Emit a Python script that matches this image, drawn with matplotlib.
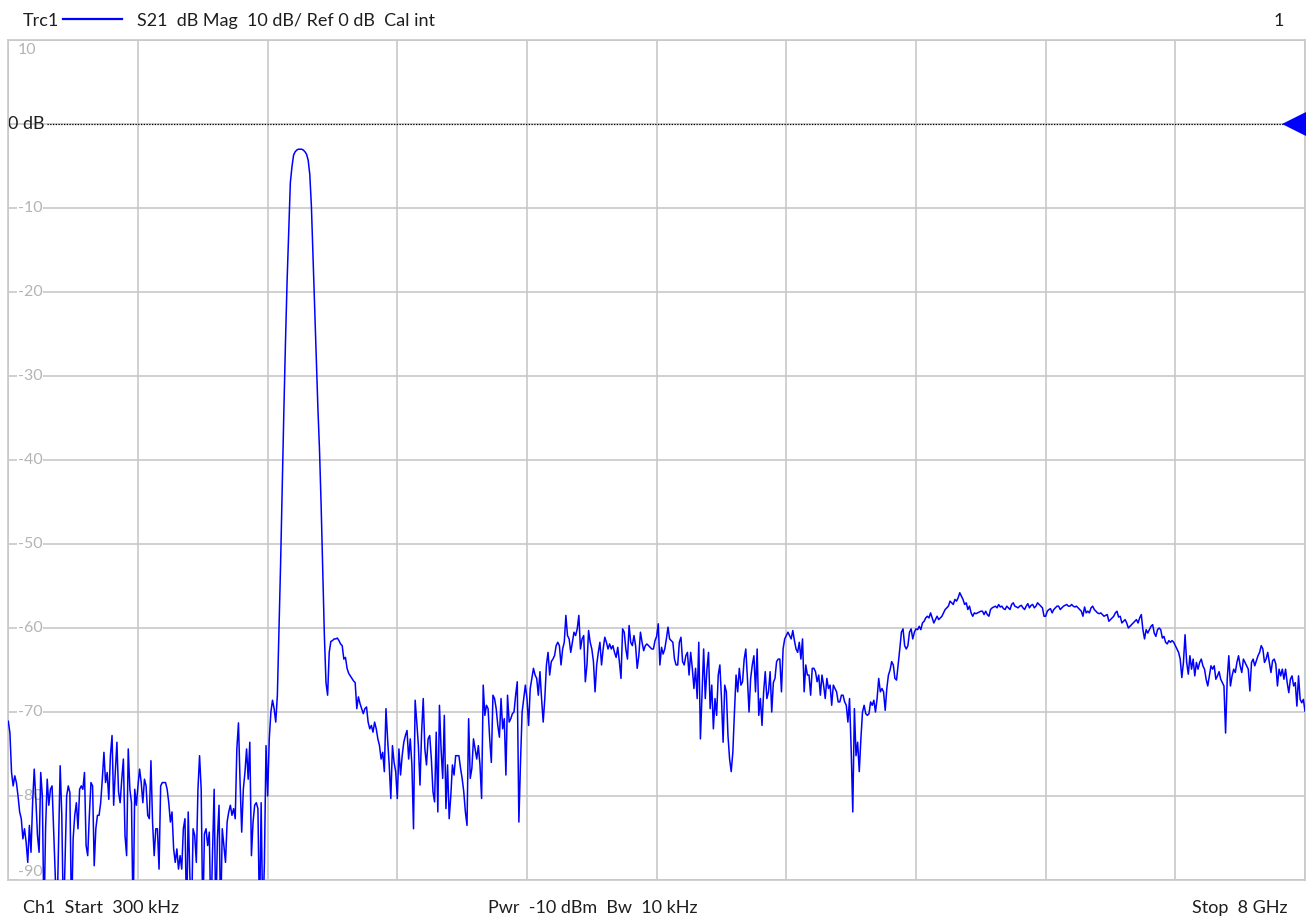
import matplotlib
matplotlib.use("Agg")
import matplotlib.pyplot as plt
import matplotlib.transforms as mtransforms
from matplotlib.lines import Line2D
import numpy as np

# sweep / display settings of the analyzer
start_hz = 300e3
stop_hz = 8e9
ref_level = 0
scale_div = 10
y_top = 10
y_bottom = -90

header_trace = "Trc1"
header_meas = "S21  dB Mag  10 dB/ Ref 0 dB  Cal int"
header_ch = "1"
footer_start = "Ch1  Start  300 kHz"
footer_mid = "Pwr  -10 dBm  Bw  10 kHz"
footer_stop = "Stop  8 GHz"

# S21 magnitude (dB), 801 evenly spaced sweep points,
# split into pieces of the sweep. values below -90 run off the screen.
low_db = [  # 300 kHz .. ~1.6 GHz, noise floor
    -71.1, -72.5, -77.2, -78.8, -77.6, -78.4, -80.0, -81.9, -82.7, -85.1,
    -83.9, -85.5, -87.9, -83.5, -86.7, -80.8, -76.8, -80.4, -84.7, -86.7,
    -77.2, -80.0, -95, -83.9, -78.0, -81.1, -79.2, -78.8, -84.3, -89.8,
    -95, -85.5, -76.4, -82.3, -95, -87.9, -80.0, -78.8, -79.6, -95,
    -85.1, -82.3, -80.8, -83.9, -79.2, -78.8, -79.2, -77.2, -85.9, -87.1,
    -82.3, -78.4, -78.8, -88.3, -83.9, -82.3, -82.3, -80.8, -78.0, -74.8,
    -78.4, -77.2, -80.4, -75.2, -72.8, -81.1, -77.2, -73.6, -79.5, -80.8,
    -78.0, -75.6, -84.7, -87.1, -74.4, -79.2, -80.8, -95, -79.2, -81.1,
    -78.8, -76.8, -78.4, -80.8, -78.0, -78.8, -82.3, -82.7, -75.8, -83.1,
    -87.1, -83.9, -83.9, -88.7, -78.8, -78.4, -78.4, -78.4, -79.2, -80.8,
    -83.1, -81.9, -86.3, -87.9, -86.3, -88.7, -87.1, -88.7, -83.9, -82.7,
    -95, -81.9, -89.4, -95, -83.9, -84.7, -87.9, -79.2, -75.2, -79.2,
    -95, -84.5, -83.9, -85.9, -84.3, -95, -86.7, -79.2, -95, -85.1,
    -81.1, -95, -83.9, -85.9, -87.9, -83.1, -81.9, -81.1, -82.3, -81.5,
    -82.7, -74.4, -71.3, -78.4, -84.3, -79.2, -77.2, -74.4, -78.0, -73.6,
    -87.1, -83.1, -81.1, -80.8, -81.5, -95, -80.8, -95, -88.0, -74.0,
    -80.0,
]
peak_db = [  # filter passband and its skirt
    -73.2, -70.0, -68.6, -69.6, -71.2, -68.0, -60.0, -52.3, -43.0, -34.2,
    -26.0, -18.7, -12.9, -7.0, -5.1, -3.7, -3.3, -3.1, -3.0, -3.0,
    -3.0, -3.1, -3.3, -3.6, -4.3, -6.0, -9.8, -15.8, -21.9, -27.8,
    -33.8, -38.8, -45.4, -53.2, -60.9, -66.5, -68.0, -62.9, -61.6, -61.5,
    -61.3, -61.3, -61.2, -61.5, -61.9, -62.1, -63.7, -63.5, -64.8, -65.4,
    -65.7, -66.0, -66.3, -66.5, -69.6, -68.2, -69.0, -69.6, -70.2, -69.6,
    -69.4, -71.2, -72.0, -71.6, -72.4, -71.2, -72.0, -73.2, -74.0, -75.6,
    -74.8, -77.1, -69.6, -73.2, -76.3, -80.3, -74.0, -76.0, -77.1, -80.3,
    -74.4, -77.5, -75.2, -73.6, -72.8, -72.2, -75.6, -73.2, -76.3, -83.9,
]
mid_db = [  # ~2.5 .. 4 GHz
    -68.6, -71.2, -74.0, -78.7, -72.4, -68.4, -74.4, -76.3, -73.2, -72.8,
    -75.6, -79.5, -80.7, -72.4, -81.9, -69.2, -74.4, -77.9, -70.4, -81.5,
    -76.3, -82.7, -80.0, -76.3, -77.5, -75.2, -75.2, -75.2, -76.7, -77.9,
    -79.5, -81.9, -83.5, -70.8, -77.9, -76.7, -73.2, -74.4, -75.6, -74.0,
    -76.3, -80.3, -66.8, -70.4, -69.2, -69.6, -73.2, -76.0, -68.0, -68.4,
    -69.6, -71.6, -73.0, -68.4, -72.0, -70.8, -77.5, -68.0, -71.2, -70.8,
    -70.2, -70.0, -68.0, -66.4, -83.1, -76.0, -70.0, -68.4, -66.8, -68.4,
    -71.6, -67.2, -66.0, -64.8, -65.6, -66.0, -68.0, -65.2, -68.4, -71.2,
    -68.4, -64.4, -62.9, -65.6, -64.0, -63.7, -63.3, -62.1, -61.7, -62.1,
    -64.4, -62.5, -61.7, -58.5, -60.9, -61.3, -62.9, -61.7, -60.5, -60.9,
    -60.1, -58.5, -62.5, -61.3, -60.9, -66.4, -64.4, -60.3, -61.7, -62.5,
    -64.0, -67.6, -64.4, -62.9, -61.7, -64.4, -62.5, -61.1, -61.7, -62.5,
    -61.9, -62.5, -62.1, -62.9, -63.5, -62.3, -64.0, -66.0, -60.1, -60.5,
    -62.5, -63.7, -59.7, -61.7, -62.1, -60.9, -62.1, -64.8, -63.3, -60.5,
    -61.7, -62.7, -62.1, -61.9, -62.1, -62.3, -62.5, -62.5, -61.5, -61.0,
]
dip_db = [  # 4 .. 5.6 GHz, two notches
    -59.5, -64.4, -62.3, -63.1, -62.5, -61.3, -59.9, -61.3, -61.5, -61.7,
    -63.7, -64.4, -64.4, -61.7, -61.1, -64.0, -64.4, -63.3, -62.9, -65.6,
    -62.9, -64.8, -67.2, -64.8, -68.4, -61.7, -73.2, -68.0, -62.5, -68.4,
    -65.0, -62.9, -69.6, -66.8, -72.0, -68.4, -70.4, -65.6, -64.4, -68.4,
    -73.6, -66.8, -67.6, -72.8, -75.6, -77.1, -74.8, -70.0, -65.6, -67.6,
    -64.8, -66.8, -66.4, -63.7, -62.5, -66.0, -70.0, -66.0, -64.4, -63.3,
    -67.6, -62.5, -70.4, -68.4, -71.6, -67.6, -65.2, -68.4, -67.6, -65.2,
    -70.0, -66.5, -66.0, -64.0, -63.7, -63.7, -67.6, -62.5, -61.3, -60.9,
    -60.5, -60.9, -61.3, -60.3, -61.5, -62.5, -62.9, -61.7, -63.7, -61.3,
    -67.6, -64.4, -65.6, -65.6, -68.0, -64.8, -64.8, -65.2, -66.4, -65.6,
    -68.0, -65.6, -66.8, -68.4, -66.0, -67.2, -66.8, -69.2, -66.8, -67.2,
    -67.6, -68.8, -68.8, -68.0, -68.0, -68.8, -69.2, -71.2, -68.4, -74.4,
    -81.9, -69.6, -75.2, -73.6, -77.1, -73.2, -70.0, -69.2, -70.2, -70.4,
    -70.2, -68.8, -69.2, -68.6, -70.0, -68.4, -66.0, -67.6, -67.2, -67.6,
    -69.8, -67.2, -65.6, -65.0, -64.0, -64.4, -66.0, -66.2, -64.4, -62.5,
    -60.5, -60.1, -62.1, -62.5, -62.1, -60.5, -60.1, -61.3, -60.5, -60.1,
]
high_db = [  # 5.6 .. 8 GHz, broad hump and roll-off
    -60.2, -59.8, -60.2, -59.4, -59.2, -58.8, -58.6, -58.8, -58.2, -58.8,
    -59.4, -59.0, -58.6, -59.0, -58.8, -58.6, -58.2, -57.8, -57.6, -57.4,
    -56.8, -57.0, -57.2, -56.6, -56.8, -56.4, -55.8, -56.2, -56.6, -57.2,
    -57.0, -57.8, -57.4, -58.2, -58.6, -58.2, -58.3, -58.2, -58.1, -58.0,
    -58.0, -58.4, -58.0, -58.4, -58.6, -57.8, -57.6, -57.5, -57.4, -57.6,
    -57.2, -57.5, -57.4, -57.7, -57.8, -57.4, -57.6, -57.8, -57.2, -57.0,
    -57.4, -57.5, -57.6, -57.4, -57.3, -57.6, -57.8, -57.4, -57.1, -57.6,
    -57.3, -57.2, -57.6, -57.4, -57.0, -57.2, -57.4, -57.6, -58.6, -58.6,
    -58.0, -57.8, -57.7, -58.2, -57.8, -57.6, -57.4, -57.4, -57.8, -57.6,
    -57.4, -57.3, -57.2, -57.4, -57.4, -57.2, -57.4, -57.5, -57.4, -57.6,
    -57.8, -58.0, -58.6, -57.5, -58.2, -58.0, -58.2, -57.6, -57.4, -57.8,
    -58.0, -58.2, -58.3, -58.2, -58.4, -58.6, -58.5, -58.4, -59.2, -59.0,
    -58.8, -58.6, -58.2, -58.0, -58.7, -58.6, -59.4, -59.2, -59.0, -59.4,
    -60.0, -59.8, -59.6, -59.4, -59.2, -59.0, -59.4, -58.8, -58.4, -60.2,
    -61.3, -60.2, -60.6, -60.2, -59.8, -59.6, -60.6, -61.0, -60.2, -60.0,
    -60.2, -61.2, -61.0, -61.7, -61.9, -61.5, -61.7, -61.5, -61.7, -62.1,
    -62.5, -62.9, -63.7, -65.9, -64.1, -60.8, -64.1, -65.5, -63.3, -64.9,
    -63.7, -65.7, -64.1, -64.9, -64.1, -63.7, -64.5, -64.9, -66.1, -66.9,
    -65.7, -64.5, -64.9, -64.5, -66.1, -65.7, -65.2, -66.1, -66.5, -66.9,
    -72.5, -66.1, -63.3, -66.9, -65.7, -64.9, -65.3, -64.1, -63.3, -64.5,
    -65.3, -63.7, -64.1, -64.5, -64.9, -67.5, -64.1, -63.7, -64.5, -63.9,
    -63.3, -62.9, -62.1, -62.5, -64.1, -63.7, -62.9, -64.1, -65.3, -63.9,
    -63.7, -64.3, -66.9, -64.9, -65.7, -64.9, -66.1, -64.9, -66.5, -67.7,
    -66.1, -65.7, -66.9, -66.5, -69.3, -65.7, -68.5, -68.9, -68.5, -69.9,
]
s21_db = low_db + peak_db + mid_db + dip_db + high_db

W, H = 1310, 919
def fx(px):
    return px / W
def fy(py):
    return 1 - py / H

plt.rcParams['font.family'] = ['Lato', 'DejaVu Sans']
text_col = "#1e1e1e"
grid_col = "#c8c8c8"
trace_col = "#0000ff"

fig = plt.figure(figsize=(W / 100, H / 100), dpi=100, facecolor="white")
ax = fig.add_axes([fx(8.3), fy(880), (1305 - 8.3) / W, 840 / H])

f_ghz = np.linspace(start_hz, stop_hz, len(s21_db)) / 1e9
ax.plot(f_ghz, s21_db, color=trace_col, lw=1.1, zorder=3)

ax.set_xlim(start_hz / 1e9, stop_hz / 1e9)
ax.set_ylim(y_bottom, y_top)
ax.set_xticks(np.linspace(start_hz / 1e9, stop_hz / 1e9, 11))
yticks = np.arange(y_bottom, y_top + 1, scale_div)
ax.set_yticks(yticks)
ax.grid(True, color=grid_col, lw=1.2)
ax.set_axisbelow(True)
ax.tick_params(length=0, labelbottom=False, labelleft=False)
for s in ax.spines.values():
    s.set_color(grid_col)
    s.set_linewidth(1.2)

# grey scale labels sitting on the grid lines
ytr = ax.get_yaxis_transform()
lab_x = (18 - 8.3) / 1296.7
for v in yticks:
    if v == ref_level:
        continue
    if v == y_top:
        va, yy = "top", v - 0.4
    elif v == y_bottom:
        va, yy = "bottom", v + 0.1
    else:
        va, yy = "center", v
    ax.text(lab_x, yy, f"{int(v)}", transform=ytr, ha="left", va=va,
            fontsize=11.5, color="#b4b4b4", zorder=2.5,
            bbox=dict(facecolor="white", edgecolor="none", pad=0.5))

# reference level line + marker
ax.text(0.0, ref_level, f"{ref_level} dB", transform=ytr, ha="left", va="center",
        fontsize=13, color=text_col, zorder=2.5)
ax.axhline(ref_level, xmin=(47 - 8.3) / 1296.7, xmax=(1283 - 8.3) / 1296.7,
           color="black", ls=(0, (1, 1.2)), lw=0.9, zorder=2)
mark_tr = mtransforms.offset_copy(ax.transData, fig=fig, x=-11.5, y=0, units="dots")
ax.plot([stop_hz / 1e9], [ref_level], marker="<", ms=17.3, color=trace_col,
        mew=0, clip_on=False, transform=mark_tr, zorder=4)

# header
fs = 13
fig.text(fx(23), fy(26), header_trace, fontsize=fs, color=text_col, va="baseline")
fig.add_artist(Line2D([fx(63), fx(122)], [fy(18.5), fy(18.5)],
                      transform=fig.transFigure, color=trace_col, lw=1.6))
fig.text(fx(137), fy(26), header_meas, fontsize=fs, color=text_col, va="baseline")
fig.text(fx(1284), fy(26), header_ch, fontsize=fs, color=text_col, va="baseline", ha="right")

# footer
fig.text(fx(23), fy(913), footer_start, fontsize=fs, color=text_col, va="baseline")
fig.text(fx(488), fy(913), footer_mid, fontsize=fs, color=text_col, va="baseline")
fig.text(fx(1288), fy(913), footer_stop, fontsize=fs, color=text_col, va="baseline", ha="right")

fig.savefig("out.png", dpi=100)
